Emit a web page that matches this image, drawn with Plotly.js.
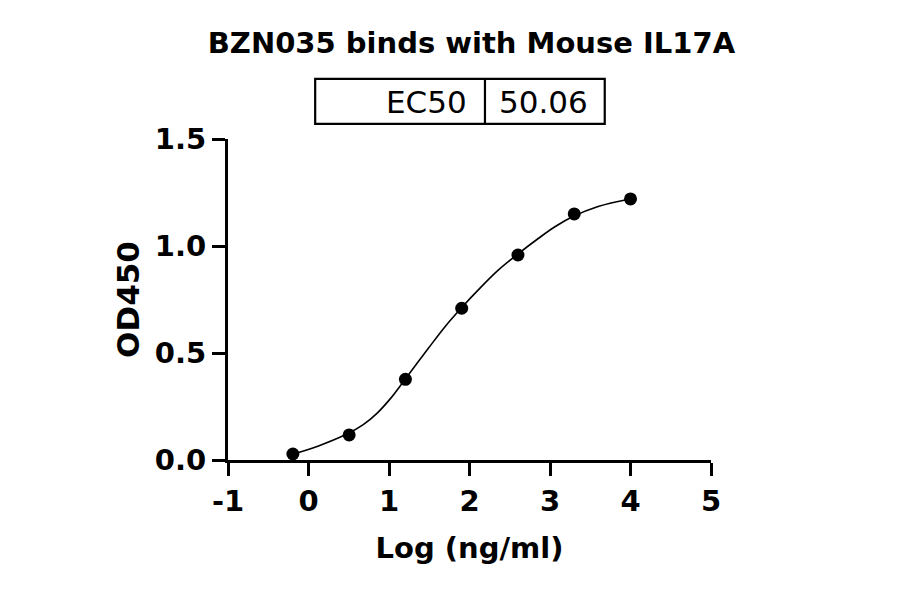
<!DOCTYPE html>
<html>
<head>
<meta charset="utf-8">
<script src="https://cdn.plot.ly/plotly-3.0.1.min.js"></script>
<style>html,body{margin:0;padding:0;background:#fff;}#chart{width:900px;height:594px;}</style>
</head>
<body>
<div id="chart"></div>
<script>
var logConc = [-0.194, 0.505, 1.204, 1.903, 2.602, 3.301, 4.0];   // Log (ng/ml)
var od450   = [0.028, 0.117, 0.377, 0.709, 0.958, 1.150, 1.220];  // OD450
// Fitted curve, read off the reference picture along the drawn line
var fitX = [-0.199, 0.124, 0.496, 0.68, 0.85, 1.02, 1.2, 1.489, 1.696, 1.895, 2.109, 2.35, 2.589, 2.854, 3.061, 3.297, 3.598, 3.995];
var fitY = [0.027, 0.066, 0.125, 0.165, 0.218, 0.288, 0.377, 0.522, 0.623, 0.709, 0.795, 0.885, 0.959, 1.035, 1.090, 1.140, 1.185, 1.220];
var xTicks  = [-1, 0, 1, 2, 3, 4, 5];
var yTicks  = [0, 0.5, 1.0, 1.5];
var yTickLabels = ["0.0", "0.5", "1.0", "1.5"];
var ec50Label = "EC50";
var ec50Value = "50.06";
var chartTitle = "BZN035 binds with Mouse IL17A";

var boldFont = {family: "DejaVu Sans", size: 29, color: "#000", weight: "bold"};

var traces = [
  {
    x: fitX, y: fitY, type: "scatter", mode: "lines",
    line: {color: "#000", width: 1.6, shape: "spline", smoothing: 1},
    hoverinfo: "skip", showlegend: false, cliponaxis: false
  },
  {
    x: logConc, y: od450, type: "scatter", mode: "markers",
    marker: {color: "#000", size: 13, symbol: "circle"},
    showlegend: false, cliponaxis: false
  }
];

var layout = {
  width: 900, height: 594,
  paper_bgcolor: "#fff", plot_bgcolor: "#fff",
  margin: {l: 227.7, r: 188.7, t: 139, b: 134, pad: 0},
  showlegend: false,
  title: {
    text: chartTitle,
    font: {family: "DejaVu Sans", size: 29, color: "#000", weight: "bold"},
    x: 0.504, xref: "paper", xanchor: "center",
    y: 1 - 43 / 594, yref: "container", yanchor: "middle"
  },
  xaxis: {
    range: [-1, 5], tickvals: xTicks, ticktext: xTicks.map(String),
    showgrid: false, zeroline: false,
    showline: true, linecolor: "#000", linewidth: 3,
    ticks: "outside", ticklen: 13, tickwidth: 3, tickcolor: "#000",
    tickfont: boldFont,
    title: {text: "Log (ng/ml)", font: boldFont, standoff: 21},
    automargin: false, fixedrange: true
  },
  yaxis: {
    range: [0, 1.5], tickvals: yTicks, ticktext: yTickLabels,
    showgrid: false, zeroline: false,
    showline: true, linecolor: "#000", linewidth: 3,
    ticks: "outside", ticklen: 13, tickwidth: 3, tickcolor: "#000",
    tickfont: boldFont,
    title: {text: "OD450", font: {family: "DejaVu Sans", size: 31, color: "#000", weight: "bold"}, standoff: 6},
    automargin: false, fixedrange: true
  },
  shapes: [
    {type: "rect", xref: "paper", yref: "paper", x0: 0.1805, x1: 0.780, y0: 1.047, y1: 1.187,
     line: {color: "#000", width: 2.2}, fillcolor: "rgba(0,0,0,0)"},
    {type: "line", xref: "paper", yref: "paper", x0: 0.532, x1: 0.532, y0: 1.047, y1: 1.187,
     line: {color: "#000", width: 2.2}}
  ],
  annotations: [
    {text: ec50Label, xref: "paper", yref: "paper", x: 0.499, y: 1.115,
     xanchor: "right", yanchor: "middle", showarrow: false,
     font: {family: "DejaVu Sans", size: 31, color: "#000"}},
    {text: ec50Value, xref: "paper", yref: "paper", x: 0.654, y: 1.115,
     xanchor: "center", yanchor: "middle", showarrow: false,
     font: {family: "DejaVu Sans", size: 31, color: "#000"}}
  ]
};

Plotly.newPlot("chart", traces, layout, {displayModeBar: false, staticPlot: true});
</script>
</body>
</html>
